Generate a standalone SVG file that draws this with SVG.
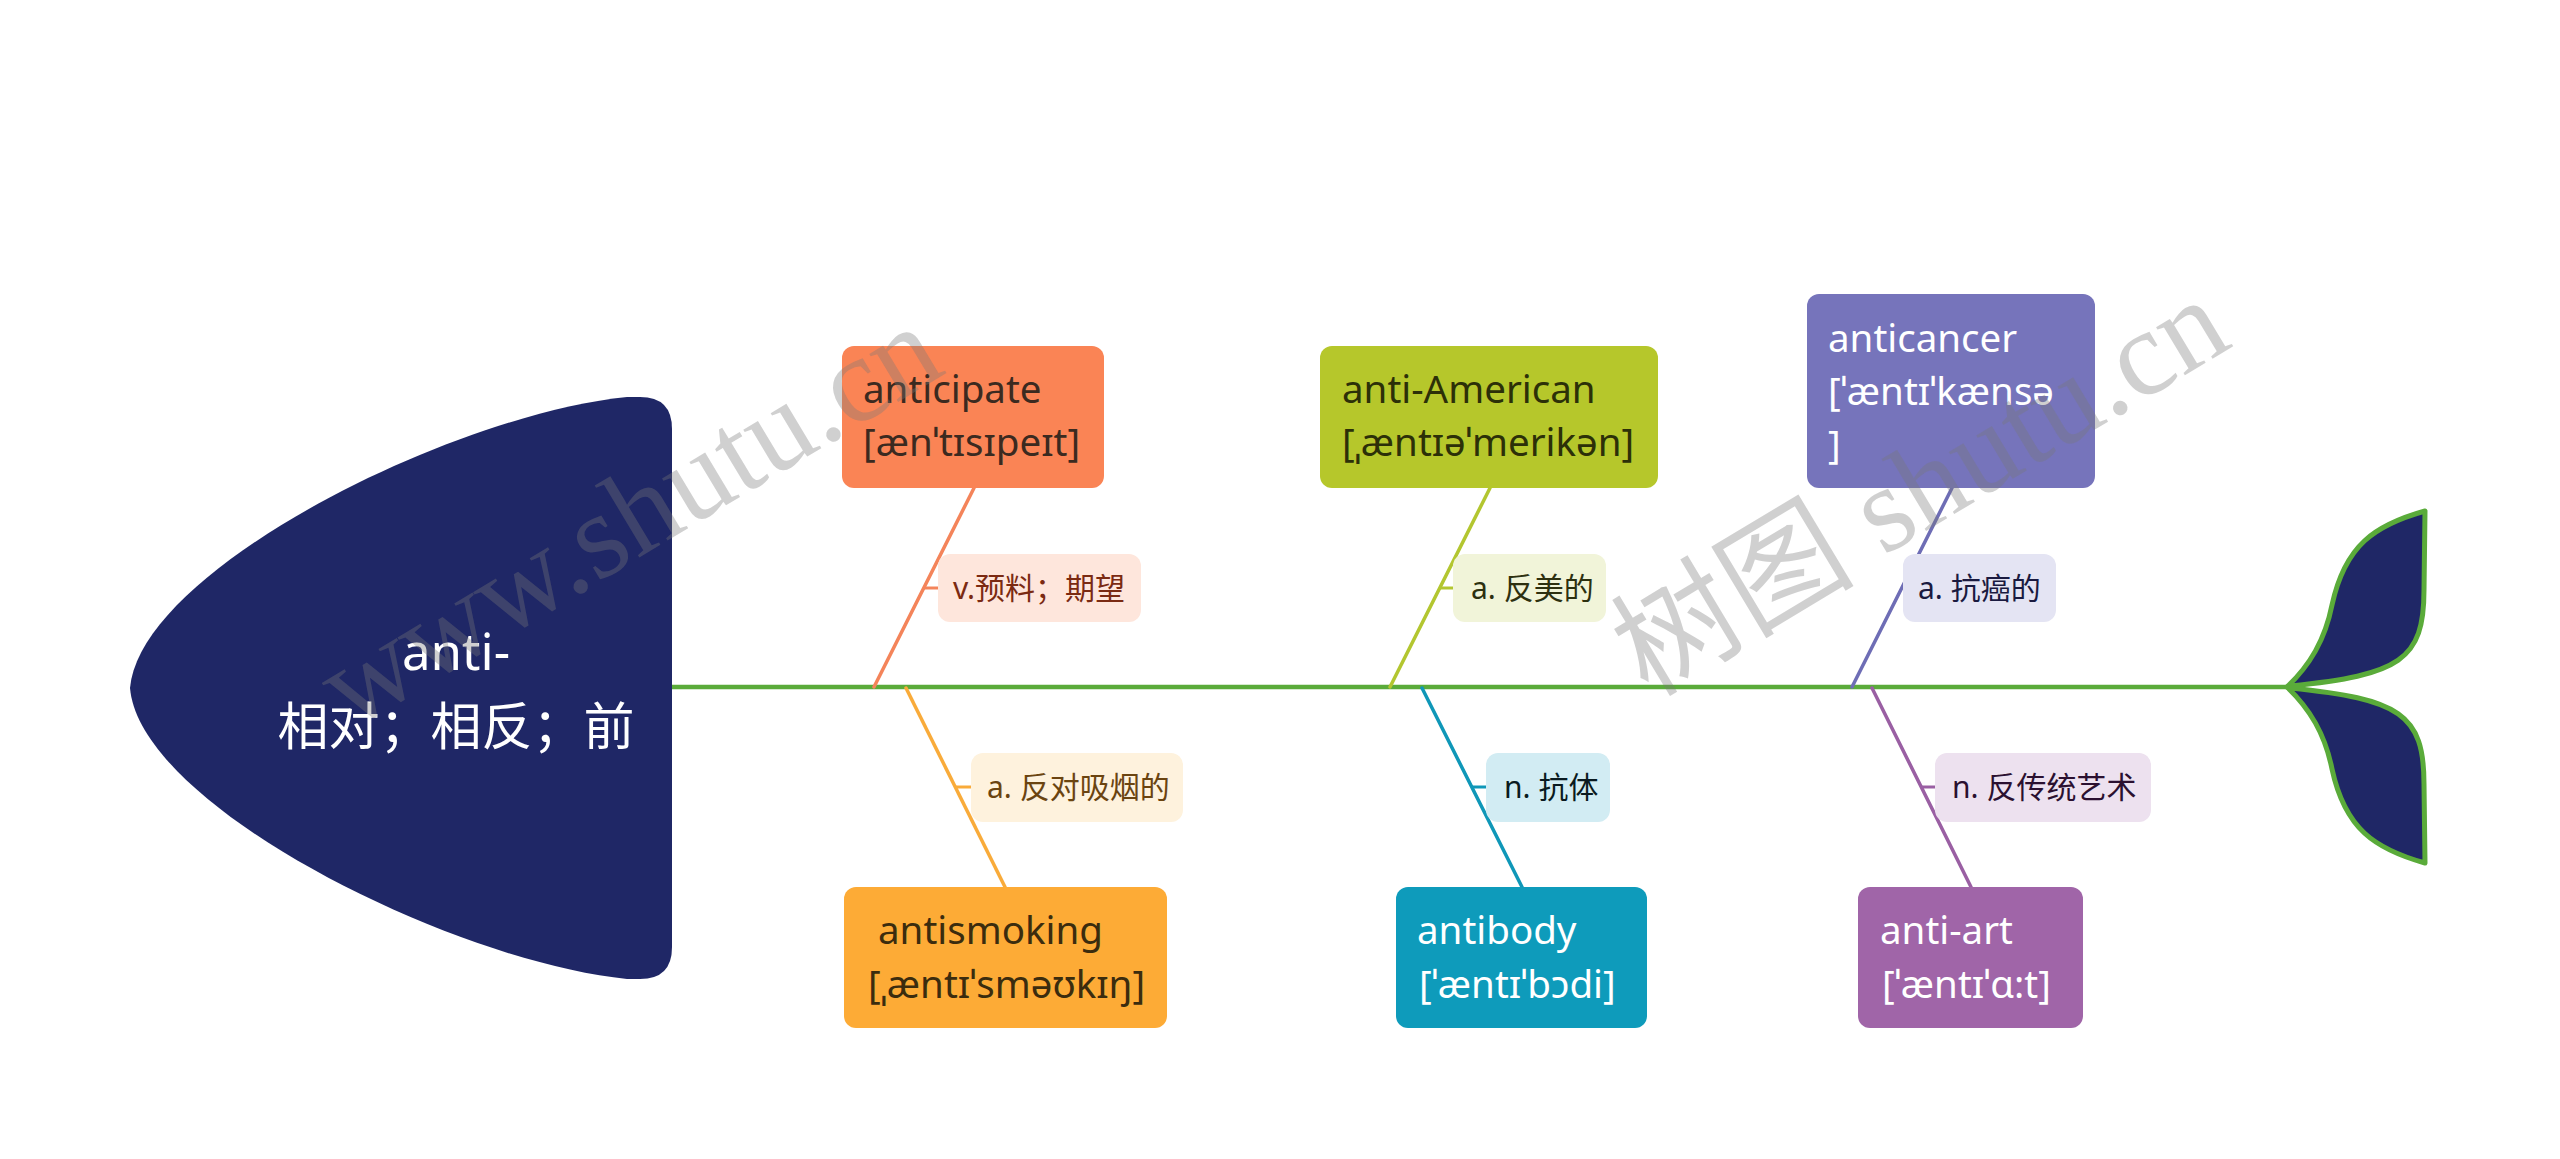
<svg xmlns="http://www.w3.org/2000/svg" width="2560" height="1159" viewBox="0 0 2560 1159">
<style>
.t{font-family:"Noto Sans","Noto Sans CJK SC",sans-serif;}
.main{font-size:38.5px;}
.lab{font-size:30px;}
.head{font-size:51px;fill:#ffffff;text-anchor:middle;}
.br{fill:none;stroke-width:3.5;stroke-linecap:round;}
.tk{fill:none;stroke-width:3;}
.fin{fill:#1f2766;stroke:#5aab3a;stroke-width:5;stroke-linejoin:round;}
.wm{font-family:"Liberation Serif","Noto Sans CJK SC",serif;font-size:122px;fill:#787878;fill-opacity:0.35;}
</style>
<rect width="2560" height="1159" fill="#ffffff"/>
<g id="connectors">
<line x1="672" y1="687" x2="2287" y2="687" stroke="#5aab3a" stroke-width="4.5"/>
<line class="br" x1="974" y1="488" x2="874" y2="687" stroke="#f4845a"/>
<line class="tk" x1="924" y1="588" x2="938" y2="588" stroke="#f4845a"/>
<line class="br" x1="906" y1="688" x2="1005" y2="887" stroke="#f9ab3a"/>
<line class="tk" x1="955" y1="787" x2="971" y2="787" stroke="#f9ab3a"/>
<line class="br" x1="1490" y1="488" x2="1390" y2="687" stroke="#b3c630"/>
<line class="tk" x1="1440" y1="588" x2="1453" y2="588" stroke="#b3c630"/>
<line class="br" x1="1422" y1="688" x2="1522" y2="887" stroke="#0f97b8"/>
<line class="tk" x1="1472" y1="787" x2="1486" y2="787" stroke="#0f97b8"/>
<line class="br" x1="1952" y1="488" x2="1852" y2="687" stroke="#6e6db5"/>
<line class="br" x1="1872" y1="688" x2="1971" y2="887" stroke="#9a5fa3"/>
<line class="tk" x1="1921" y1="787" x2="1935" y2="787" stroke="#9a5fa3"/>
</g>
<g id="head">
<path d="M627,397 L640,397 Q672,397 672,429 L672,947 Q672,979 640,979 L627,979 C450,961 140,806 130,688 C140,570 450,415 627,397 Z" fill="#1f2766"/>
<text class="t head" x="456" y="670">anti-</text>
<text class="t head" x="456" y="745">相对；相反；前</text>
</g>
<g id="tail">
<path class="fin" d="M2287,687 C2310,665 2325,640 2332,605 C2345,545 2375,525 2425,511 L2424,590 C2424,660 2400,675 2290,686 Z"/>
<path class="fin" d="M2287,687 C2310,709 2325,734 2332,769 C2345,829 2375,849 2425,863 L2424,784 C2424,714 2400,699 2290,688 Z"/>
</g>
<g id="anticipate">
<rect x="842" y="346" width="262" height="142" rx="12" fill="#fa8455"/>
<text class="t main" x="863" y="403" fill="#3b2a20">anticipate</text>
<text class="t main" x="863" y="456" fill="#3b2a20">[ænˈtɪsɪpeɪt]</text>
</g>
<g id="anticipate-meaning">
<rect x="938" y="554" width="203" height="68" rx="12" fill="#fee6dc"/>
<text class="t lab" x="953" y="599" fill="#7b2a12">v.预料；期望</text>
</g>
<g id="antismoking">
<rect x="844" y="887" width="323" height="141" rx="12" fill="#fdab36"/>
<text class="t main" x="878" y="944" fill="#3b2c0e">antismoking</text>
<text class="t main" x="868" y="998" fill="#3b2c0e">[ˌæntɪˈsməʊkɪŋ]</text>
</g>
<g id="antismoking-meaning">
<rect x="971" y="753" width="212" height="69" rx="12" fill="#fef2dd"/>
<text class="t lab" x="987" y="798" fill="#6b4410">a. 反对吸烟的</text>
</g>
<g id="anti-american">
<rect x="1320" y="346" width="338" height="142" rx="12" fill="#b6c72b"/>
<text class="t main" x="1342" y="403" fill="#2c3008">anti-American</text>
<text class="t main" x="1342" y="456" fill="#2c3008">[ˌæntɪəˈmerikən]</text>
</g>
<g id="anti-american-meaning">
<rect x="1453" y="554" width="153" height="68" rx="12" fill="#f1f4d9"/>
<text class="t lab" x="1471" y="599" fill="#2d3010">a. 反美的</text>
</g>
<g id="antibody">
<rect x="1396" y="887" width="251" height="141" rx="12" fill="#0e9bbb"/>
<text class="t main" x="1417" y="944" fill="#ffffff">antibody</text>
<text class="t main" x="1419" y="998" fill="#ffffff">[ˈæntɪˈbɔdi]</text>
</g>
<g id="antibody-meaning">
<rect x="1486" y="753" width="124" height="69" rx="12" fill="#d2ecf3"/>
<text class="t lab" x="1504" y="798" fill="#0a1a20">n. 抗体</text>
</g>
<g id="anticancer">
<rect x="1807" y="294" width="288" height="194" rx="12" fill="#7674bb"/>
<text class="t main" x="1828" y="352" fill="#ffffff">anticancer</text>
<text class="t main" x="1828" y="405" fill="#ffffff">[ˈæntɪˈkænsə</text>
<text class="t main" x="1828" y="458" fill="#ffffff">]</text>
</g>
<g id="anticancer-meaning">
<rect x="1903" y="554" width="153" height="68" rx="12" fill="#e4e4f3"/>
<text class="t lab" x="1918" y="599" fill="#1a1a40">a. 抗癌的</text>
</g>
<g id="anti-art">
<rect x="1858" y="887" width="225" height="141" rx="12" fill="#a065a8"/>
<text class="t main" x="1880" y="944" fill="#ffffff">anti-art</text>
<text class="t main" x="1882" y="998" fill="#ffffff">[ˈæntɪˈɑ:t]</text>
</g>
<g id="anti-art-meaning">
<rect x="1935" y="753" width="216" height="69" rx="12" fill="#ede1ef"/>
<text class="t lab" x="1952" y="798" fill="#2b1030">n. 反传统艺术</text>
</g>
<g id="watermark">
<text class="wm" x="948" y="372" text-anchor="end" transform="rotate(-31 948 372)">www.shutu.cn</text>
<text class="wm" x="1648" y="698" transform="rotate(-31 1648 698)">树图 shutu.cn</text>
</g>
</svg>
